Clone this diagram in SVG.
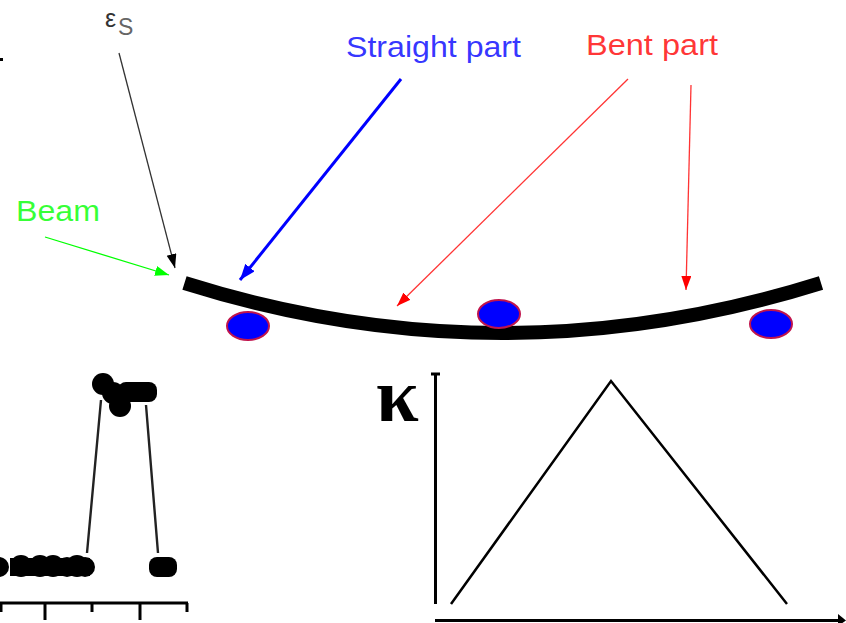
<svg xmlns="http://www.w3.org/2000/svg" width="846" height="623" viewBox="0 0 846 623">
<style>
text{font-family:"Liberation Sans",Arial,sans-serif;font-size:29px}
.sup{fill:#0000ff;stroke:#c0144c;stroke-width:2}
.dot{fill:#000}
.ax{stroke:#000;fill:none;stroke-width:3}
.thin{stroke:#222;fill:none;stroke-width:2.4}
</style>
<defs>
<marker id="mk" markerUnits="userSpaceOnUse" markerWidth="14" markerHeight="12" refX="14" refY="5" orient="auto"><path d="M0 0L14 5L0 10z" fill="#000"/></marker>
<marker id="mb" markerUnits="userSpaceOnUse" markerWidth="16" markerHeight="12" refX="16" refY="6" orient="auto"><path d="M0 0L16 6L0 12z" fill="#0000ff"/></marker>
<marker id="mr" markerUnits="userSpaceOnUse" markerWidth="14" markerHeight="12" refX="14" refY="5" orient="auto"><path d="M0 0L14 5L0 10z" fill="#ff0000"/></marker>
<marker id="mg" markerUnits="userSpaceOnUse" markerWidth="14" markerHeight="12" refX="14" refY="5" orient="auto"><path d="M0 0L14 5L0 10z" fill="#00ff00"/></marker>
</defs>
<rect width="846" height="623" fill="#fff"/>
<rect x="0" y="58" width="3" height="3" fill="#000"/>
<g id="beam-plate"><path d="M184.500 283Q502 383 821 283" fill="none" stroke="#000" stroke-width="14"/></g>
<g id="support-1"><ellipse class="sup" cx="248" cy="326" rx="21" ry="14"/></g>
<g id="support-2"><ellipse class="sup" cx="499" cy="314" rx="21" ry="14"/></g>
<g id="support-3"><ellipse class="sup" cx="771" cy="324" rx="21" ry="14"/></g>
<g id="label-eps"><text x="105" y="27" fill="#333" style="font-size:25px">ε</text><text x="118" y="35" fill="#666" style="font-size:23px">S</text></g>
<g id="label-straight"><text x="346" y="57" fill="#0000ff" fill-opacity=".8" textLength="175" lengthAdjust="spacingAndGlyphs">Straight part</text></g>
<g id="label-bent"><text x="586" y="55" fill="#ff0000" fill-opacity=".8" textLength="132" lengthAdjust="spacingAndGlyphs">Bent part</text></g>
<g id="label-beam"><text x="16" y="221" fill="#00ff00" fill-opacity=".8" textLength="84" lengthAdjust="spacingAndGlyphs">Beam</text></g>
<g id="connectors">
<path d="M119 53L175 268" stroke="#333" stroke-width="1.300" fill="none" marker-end="url(#mk)"/>
<path d="M45 237L169 275" stroke="#00ff00" stroke-width="1.300" fill="none" marker-end="url(#mg)"/>
<path d="M401 79L240 280" stroke="#0000ff" stroke-width="3" fill="none" marker-end="url(#mb)"/>
<path d="M628 79L397 306" stroke="#ff0000" stroke-opacity=".8" stroke-width="1.300" fill="none" marker-end="url(#mr)"/>
<path d="M691 85L686 290" stroke="#ff0000" stroke-opacity=".8" stroke-width="1.300" fill="none" marker-end="url(#mr)"/>
</g>
<g id="profile-chart">
<path class="thin" d="M87 553L101 400M146 405L158 553"/>
<g class="dot"><circle cx="-1" cy="567" r="10"/><circle cx="21" cy="566" r="11"/><circle cx="40" cy="566" r="11"/><circle cx="53" cy="566" r="11"/><circle cx="67" cy="567" r="10"/><circle cx="77" cy="566" r="11"/><circle cx="85" cy="567" r="10"/><rect x="10" y="558" width="80" height="18"/><rect x="149" y="557" width="28" height="20" rx="8"/><circle cx="103" cy="384" r="11"/><circle cx="120" cy="406" r="11"/><circle cx="113" cy="393" r="11"/><rect x="118" y="382" width="39" height="20" rx="8"/></g>
<path class="ax" d="M0 603H188M1 603V612M45 603V620M92 603V612M140 603V620M187 603V612"/>
</g>
<g id="curvature-chart">
<text x="376" y="421" style="font-family:'Liberation Serif',serif;font-size:77px;font-weight:bold">κ</text>
<path class="ax" d="M435.500 604V374M431 374H440"/>
<path class="ax" style="stroke-width:2.500" d="M451 604L611 381L787 604"/>
<path class="ax" d="M435 620.500H842"/><path d="M838 614L846 620.500L838 626z" fill="#000"/>
</g>
</svg>
